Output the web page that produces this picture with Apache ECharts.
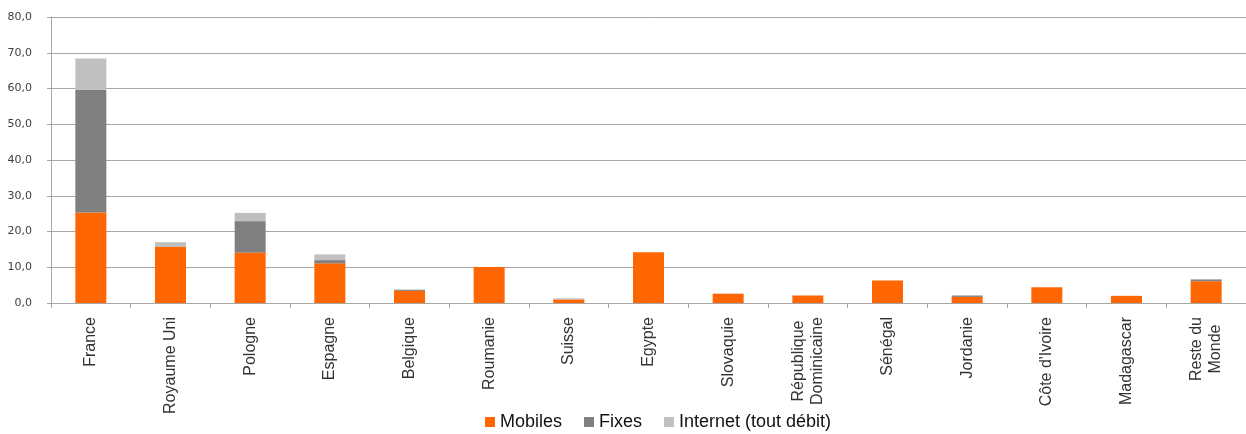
<!DOCTYPE html>
<html>
<head>
<meta charset="utf-8">
<script src="https://cdn.jsdelivr.net/npm/echarts@6/dist/echarts.min.js"></script>
<style>html,body{margin:0;padding:0;background:#fff}#c{width:1246px;height:434px}</style>
</head>
<body>
<div id="c"></div>
<script>
const categories = ['France','Royaume Uni','Pologne','Espagne','Belgique','Roumanie','Suisse','Egypte','Slovaquie','République\nDominicaine','Sénégal','Jordanie',"Côte d'Ivoire",'Madagascar','Reste du\nMonde'];
const mobiles  = [25.3, 15.7, 14.1, 11.1, 3.4, 10.1, 1.0, 14.2, 2.6, 2.1, 6.3, 1.7, 4.4, 2.0, 6.1];
const fixes    = [34.3, 0.1, 8.8, 0.9, 0.3, 0.0, 0.0, 0.0, 0.0, 0.0, 0.0, 0.4, 0.0, 0.0, 0.5];
const internet = [8.8, 1.2, 2.3, 1.6, 0.1, 0.0, 0.3, 0.0, 0.1, 0.0, 0.0, 0.0, 0.0, 0.0, 0.1];
const seriesNames = ['Mobiles','Fixes','Internet (tout débit)'];
const yTicks = {min: 0, max: 80, interval: 10};

const chart = echarts.init(document.getElementById('c'));
const mk = (name, data, color) => ({
  name, type: 'bar', stack: 's', data, barWidth: 31,
  itemStyle: {color}, emphasis: {disabled: true}
});
const labFont = {fontFamily: 'Liberation Sans, Arial', fontSize: 16, color: '#333', lineHeight: 19, align: 'center'};
chart.setOption({
  animation: false,
  grid: {left: 51, right: 0, top: 17, bottom: 131, containLabel: false},
  legend: {
    top: 408, left: 480, itemWidth: 10, itemHeight: 10, itemGap: 22,
    icon: 'rect',
    textStyle: {fontFamily: 'Liberation Sans, Arial', fontSize: 18, color: '#111'},
    data: seriesNames
  },
  xAxis: {
    type: 'category', data: categories,
    axisLine: {lineStyle: {color: '#A6A6A6'}},
    axisTick: {show: true, length: 5, lineStyle: {color: '#A6A6A6'}},
    axisLabel: {rotate: 90, interval: 0, margin: 14,
      fontFamily: 'Liberation Sans, Arial', fontSize: 16, color: '#333', lineHeight: 19,
      formatter: v => v.split('\n').map(s => '{c|' + s + '}').join('\n'),
      rich: {c: labFont}}
  },
  yAxis: {
    type: 'value', min: yTicks.min, max: yTicks.max, interval: yTicks.interval,
    axisLine: {show: true, lineStyle: {color: '#A6A6A6'}},
    axisTick: {show: true, length: 4, lineStyle: {color: '#A6A6A6'}},
    splitLine: {lineStyle: {color: '#A6A6A6'}},
    axisLabel: {margin: 19, fontFamily: 'DejaVu Sans, Verdana', fontSize: 11, color: '#404040',
      formatter: v => v.toFixed(1).replace('.', ',')}
  },
  series: [
    mk(seriesNames[0], mobiles, '#FF6600'),
    mk(seriesNames[1], fixes, '#808080'),
    mk(seriesNames[2], internet, '#C0C0C0')
  ]
});
</script>
</body>
</html>
